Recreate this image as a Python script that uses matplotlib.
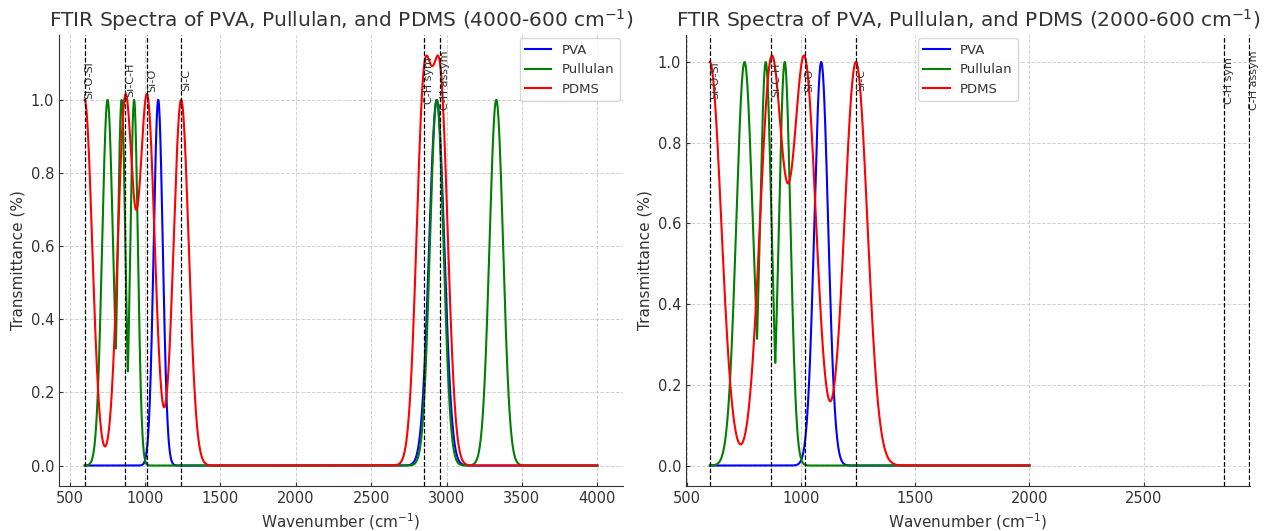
import numpy as np
import matplotlib
matplotlib.use("Agg")
import matplotlib.pyplot as plt

# peak centres (cm-1), widths (sigma, cm-1), heights
pva_centers = [1088, 2935]
pva_widths = [30, 50]
pva_heights = [1.0, 1.0]

pullulan_centers = [752, 845, 928, 2935, 3330]
pullulan_widths = [36, 25, 25, 45, 45]
pullulan_heights = [1.0, 1.0, 1.0, 1.0, 1.0]

pdms_centers = [600, 870, 1015, 1240, 2850, 2960]
pdms_widths = [50, 50, 50, 50, 50, 50]
pdms_heights = [1.0, 1.0, 1.0, 1.0, 1.0, 1.0]

band_positions = [600, 870, 1015, 1240, 2850, 2960]
band_labels = ["Si-O-Si", "Si-C-H", "Si-O", "Si-C", "C-H sym", "C-H assym"]

ranges = [(4000, 600), (2000, 600)]


def peaks(x, centers, widths, heights):
    return [h * np.exp(-(x - c) ** 2 / (2 * w ** 2)) for c, w, h in zip(centers, widths, heights)]


plt.rcParams["font.family"] = "DejaVu Sans"
plt.rcParams["text.color"] = "#333333"
plt.rcParams["axes.labelcolor"] = "#333333"
plt.rcParams["xtick.color"] = "#333333"
plt.rcParams["ytick.color"] = "#333333"

fig, axes = plt.subplots(1, 2, figsize=(12.72, 5.31), dpi=100)
fig.subplots_adjust(left=0.0464, right=0.9827, bottom=0.0847, top=0.934, wspace=0.112)

for ax, (hi, lo) in zip(axes, ranges):
    x = np.linspace(lo, hi, 3000)
    pva = np.sum(peaks(x, pva_centers, pva_widths, pva_heights), axis=0)
    pullulan = np.max(peaks(x, pullulan_centers, pullulan_widths, pullulan_heights), axis=0)
    pdms = np.sum(peaks(x, pdms_centers, pdms_widths, pdms_heights), axis=0)
    ax.plot(x, pva, color="blue", lw=1.5, label="PVA")
    ax.plot(x, pullulan, color="green", lw=1.5, label="Pullulan")
    ax.plot(x, pdms, color="red", lw=1.5, label="PDMS")

    for pos, lab in zip(band_positions, band_labels):
        ax.axvline(pos, color="black", linestyle="--", lw=0.9)
        ax.text(pos, 0.9, lab, rotation=90, fontsize=8, ha="left", va="center",
                transform=ax.get_xaxis_transform())

    ax.set_title("FTIR Spectra of PVA, Pullulan, and PDMS (%d-%d cm$^{-1}$)" % (hi, lo), fontsize=14.5)
    ax.set_xlabel("Wavenumber (cm$^{-1}$)", fontsize=11)
    ax.set_ylabel("Transmittance (%)", fontsize=11)
    ax.grid(True, linestyle="--", color="#d0d0d0", lw=0.7)
    ax.set_axisbelow(True)
    for s in ["top", "right"]:
        ax.spines[s].set_visible(False)
    for s in ["left", "bottom"]:
        ax.spines[s].set_color("#333333")
    ax.tick_params(direction="in", length=3, labelsize=10.5)

axes[0].legend(loc="upper right", fontsize=9.5, borderaxespad=0.25)
axes[1].legend(loc="upper center", fontsize=9.5, borderaxespad=0.25)
axes[1].set_xlim(496, 2966)

plt.savefig("out.png", dpi=100)
